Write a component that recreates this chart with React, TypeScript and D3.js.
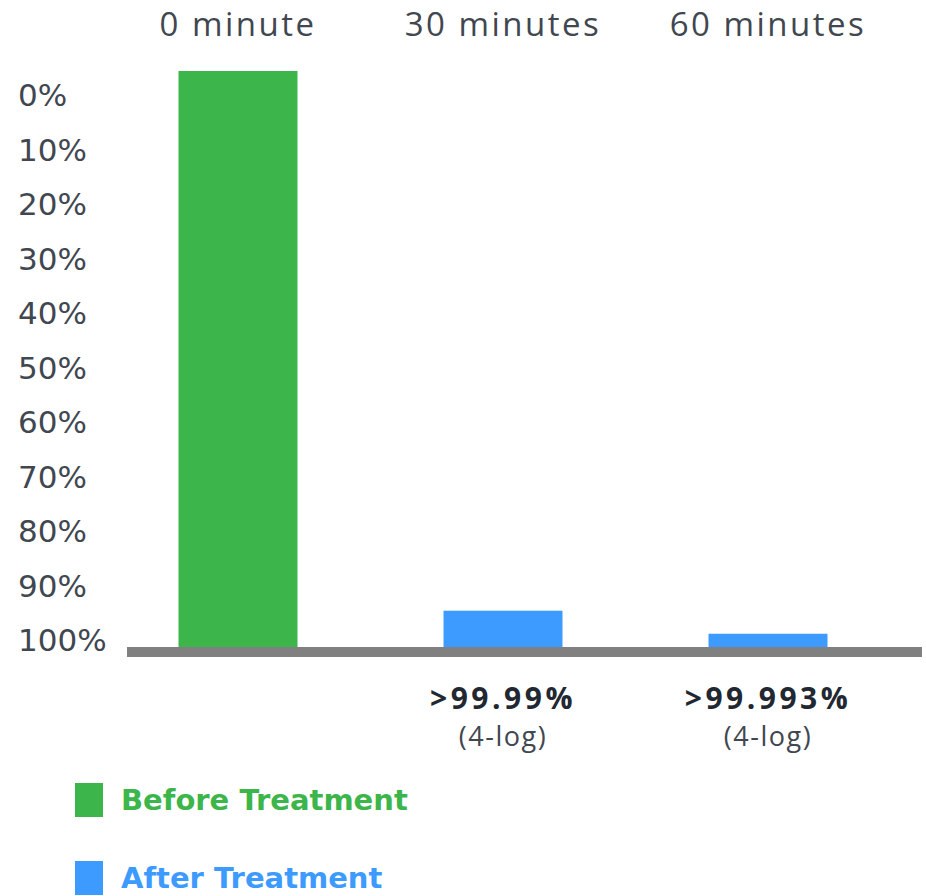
import React from "react";
import * as d3 from "d3";

const categories = ["0 minute", "30 minutes", "60 minutes"];
const series = ["Before Treatment", "After Treatment", "After Treatment"];
const values = [100, 6.3, 2.3];
const reductionLabels = ["", ">99.99%", ">99.993%"];
const reductionSub = ["", "(4-log)", "(4-log)"];
const yTickLabels = ["0%", "10%", "20%", "30%", "40%", "50%", "60%", "70%", "80%", "90%", "100%"];
const legendItems = ["Before Treatment", "After Treatment"];

const colors: Record<string, string> = {
  "Before Treatment": "#3cb54a",
  "After Treatment": "#3d9bff",
};

const W = 926;
const H = 896;

export default function App() {
  const x = d3.scaleBand<string>().domain(categories).range([178.5, 827.5]).paddingInner(0.551).paddingOuter(0);
  const y = d3.scaleLinear().domain([0, 100]).range([647, 71]);
  const yLab = d3.scalePoint<string>().domain(yTickLabels).range([95, 640]);
  const legendY = d3.scalePoint<string>().domain(legendItems).range([800, 878]);
  const textColor = "#414750";
  const cx = (c: string) => (x(c) ?? 0) + x.bandwidth() / 2;

  return (
    <svg width={W} height={H} style={{ position: "absolute", left: 0, top: 0, background: "#fff" }}>
      {yTickLabels.map((t) => (
        <text key={t} x={18} y={yLab(t)} dominantBaseline="central" fontFamily="DejaVu Sans" fontSize={31} fill={textColor}>
          {t}
        </text>
      ))}
      {categories.map((c) => (
        <text key={c} x={cx(c)} y={23} dominantBaseline="central" textAnchor="middle"
          fontFamily="Open Sans" fontSize={33} letterSpacing={2.5} fill={textColor}>
          {c}
        </text>
      ))}
      {categories.map((c, i) => (
        <rect key={c} x={x(c)} y={y(values[i])} width={x.bandwidth()} height={y(0) - y(values[i])} fill={colors[series[i]]} />
      ))}
      <rect x={127} y={647} width={795} height={10} fill="#808080" />
      {categories.map((c, i) => (
        <g key={c}>
          <text x={cx(c)} y={697} dominantBaseline="central" textAnchor="middle"
            fontFamily="Open Sans" fontWeight="bold" fontSize={30} letterSpacing={3.5} fill="#222831">
            {reductionLabels[i]}
          </text>
          <text x={cx(c)} y={735} dominantBaseline="central" textAnchor="middle"
            fontFamily="Open Sans" fontSize={27} letterSpacing={1.5} fill={textColor}>
            {reductionSub[i]}
          </text>
        </g>
      ))}
      {legendItems.map((l) => (
        <g key={l}>
          <rect x={75} y={(legendY(l) ?? 0) - 17} width={28} height={34} fill={colors[l]} />
          <text x={121} y={legendY(l)} dominantBaseline="central" fontFamily="DejaVu Sans" fontWeight="bold" fontSize={29} fill={colors[l]}>
            {l}
          </text>
        </g>
      ))}
    </svg>
  );
}
